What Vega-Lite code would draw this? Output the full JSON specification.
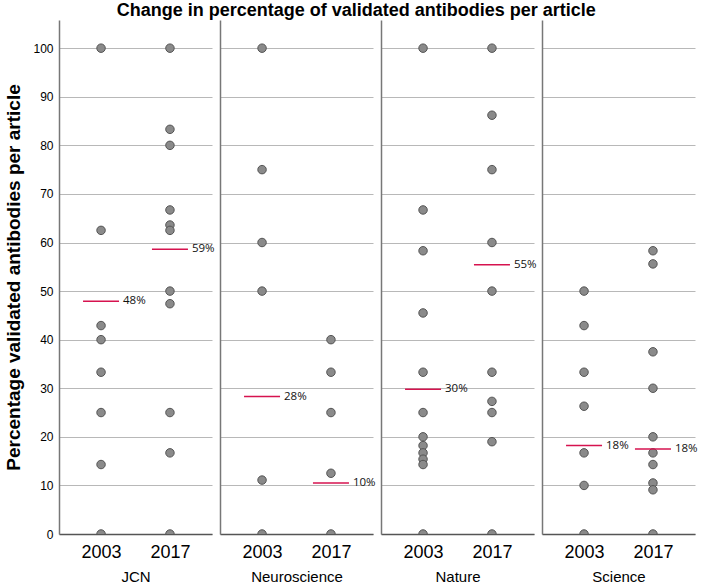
{
  "$schema": "https://vega.github.io/schema/vega-lite/v6.json",
  "title": {"text": "Change in percentage of validated antibodies per article", "fontSize": 18, "fontWeight": "bold", "font": "Liberation Sans", "anchor": "middle", "offset": 0, "color": "#000", "dx": 5},
  "padding": {"left": 4, "top": 2, "right": 5, "bottom": 2},
  "spacing": 5,
  "datasets": {
    "points": [
      {"journal": "JCN", "year": "2003", "value": 100},
      {"journal": "JCN", "year": "2003", "value": 62.5},
      {"journal": "JCN", "year": "2003", "value": 42.9},
      {"journal": "JCN", "year": "2003", "value": 40},
      {"journal": "JCN", "year": "2003", "value": 33.3},
      {"journal": "JCN", "year": "2003", "value": 25},
      {"journal": "JCN", "year": "2003", "value": 14.3},
      {"journal": "JCN", "year": "2003", "value": 0},
      {"journal": "JCN", "year": "2017", "value": 100},
      {"journal": "JCN", "year": "2017", "value": 83.3},
      {"journal": "JCN", "year": "2017", "value": 80},
      {"journal": "JCN", "year": "2017", "value": 66.7},
      {"journal": "JCN", "year": "2017", "value": 63.6},
      {"journal": "JCN", "year": "2017", "value": 62.5},
      {"journal": "JCN", "year": "2017", "value": 50},
      {"journal": "JCN", "year": "2017", "value": 47.4},
      {"journal": "JCN", "year": "2017", "value": 25},
      {"journal": "JCN", "year": "2017", "value": 16.7},
      {"journal": "JCN", "year": "2017", "value": 0},
      {"journal": "Neuroscience", "year": "2003", "value": 100},
      {"journal": "Neuroscience", "year": "2003", "value": 75},
      {"journal": "Neuroscience", "year": "2003", "value": 60},
      {"journal": "Neuroscience", "year": "2003", "value": 50},
      {"journal": "Neuroscience", "year": "2003", "value": 11.1},
      {"journal": "Neuroscience", "year": "2003", "value": 0},
      {"journal": "Neuroscience", "year": "2017", "value": 40},
      {"journal": "Neuroscience", "year": "2017", "value": 33.3},
      {"journal": "Neuroscience", "year": "2017", "value": 25},
      {"journal": "Neuroscience", "year": "2017", "value": 12.5},
      {"journal": "Neuroscience", "year": "2017", "value": 0},
      {"journal": "Nature", "year": "2003", "value": 100},
      {"journal": "Nature", "year": "2003", "value": 66.7},
      {"journal": "Nature", "year": "2003", "value": 58.3},
      {"journal": "Nature", "year": "2003", "value": 45.5},
      {"journal": "Nature", "year": "2003", "value": 33.3},
      {"journal": "Nature", "year": "2003", "value": 25},
      {"journal": "Nature", "year": "2003", "value": 20},
      {"journal": "Nature", "year": "2003", "value": 18.2},
      {"journal": "Nature", "year": "2003", "value": 16.7},
      {"journal": "Nature", "year": "2003", "value": 15.4},
      {"journal": "Nature", "year": "2003", "value": 14.3},
      {"journal": "Nature", "year": "2003", "value": 0},
      {"journal": "Nature", "year": "2017", "value": 100},
      {"journal": "Nature", "year": "2017", "value": 86.2},
      {"journal": "Nature", "year": "2017", "value": 75},
      {"journal": "Nature", "year": "2017", "value": 60},
      {"journal": "Nature", "year": "2017", "value": 50},
      {"journal": "Nature", "year": "2017", "value": 33.3},
      {"journal": "Nature", "year": "2017", "value": 27.3},
      {"journal": "Nature", "year": "2017", "value": 25},
      {"journal": "Nature", "year": "2017", "value": 19},
      {"journal": "Nature", "year": "2017", "value": 0},
      {"journal": "Science", "year": "2003", "value": 50},
      {"journal": "Science", "year": "2003", "value": 42.9},
      {"journal": "Science", "year": "2003", "value": 33.3},
      {"journal": "Science", "year": "2003", "value": 26.3},
      {"journal": "Science", "year": "2003", "value": 16.7},
      {"journal": "Science", "year": "2003", "value": 10},
      {"journal": "Science", "year": "2003", "value": 0},
      {"journal": "Science", "year": "2017", "value": 58.3},
      {"journal": "Science", "year": "2017", "value": 55.6},
      {"journal": "Science", "year": "2017", "value": 37.5},
      {"journal": "Science", "year": "2017", "value": 30},
      {"journal": "Science", "year": "2017", "value": 20},
      {"journal": "Science", "year": "2017", "value": 16.7},
      {"journal": "Science", "year": "2017", "value": 14.3},
      {"journal": "Science", "year": "2017", "value": 10.5},
      {"journal": "Science", "year": "2017", "value": 9.1},
      {"journal": "Science", "year": "2017", "value": 0}
    ],
    "means": [
      {"journal": "JCN", "year": "2003", "value": 47.9, "label": "48%"},
      {"journal": "JCN", "year": "2017", "value": 58.6, "label": "59%"},
      {"journal": "Neuroscience", "year": "2003", "value": 28.3, "label": "28%"},
      {"journal": "Neuroscience", "year": "2017", "value": 10.5, "label": "10%"},
      {"journal": "Nature", "year": "2003", "value": 29.8, "label": "30%"},
      {"journal": "Nature", "year": "2017", "value": 55.4, "label": "55%"},
      {"journal": "Science", "year": "2003", "value": 18.2, "label": "18%"},
      {"journal": "Science", "year": "2017", "value": 17.5, "label": "18%"}
    ]
  },
  "hconcat": [
    {
      "width": 153, "height": 514,
      "encoding": {
        "x": {"field": "year", "type": "ordinal", "scale": {"type": "point", "padding": 0.61}, "axis": {"title": "JCN"}},
        "y": {"field": "value", "type": "quantitative", "scale": {"domain": [0, 105.8], "nice": false, "zero": true}, "axis": {"values": [0,10,20,30,40,50,60,70,80,90,100], "title": "Percentage validated antibodies per article", "labels": true}}
      },
      "layer": [
        {"data": {"name": "points"}, "transform": [{"filter": "datum.journal === 'JCN'"}], "mark": {"type": "circle", "size": 72, "fill": "#8a8a8a", "stroke": "#555555", "strokeWidth": 1, "opacity": 1, "clip": true}},
        {"data": {"name": "means"}, "transform": [{"filter": "datum.journal === 'JCN'"}], "mark": {"type": "tick", "color": "#d6134f", "size": 36, "thickness": 1.5, "opacity": 1}},
        {"data": {"name": "means"}, "transform": [{"filter": "datum.journal === 'JCN'"}], "mark": {"type": "text", "align": "left", "baseline": "middle", "dx": 22, "fontSize": 11.5, "font": "Open Sans", "color": "#111"}, "encoding": {"text": {"field": "label"}}}
      ]
    },
    {
      "width": 153, "height": 514,
      "encoding": {
        "x": {"field": "year", "type": "ordinal", "scale": {"type": "point", "padding": 0.61}, "axis": {"title": "Neuroscience"}},
        "y": {"field": "value", "type": "quantitative", "scale": {"domain": [0, 105.8], "nice": false, "zero": true}, "axis": {"values": [0,10,20,30,40,50,60,70,80,90,100], "title": null, "labels": false}}
      },
      "layer": [
        {"data": {"name": "points"}, "transform": [{"filter": "datum.journal === 'Neuroscience'"}], "mark": {"type": "circle", "size": 72, "fill": "#8a8a8a", "stroke": "#555555", "strokeWidth": 1, "opacity": 1, "clip": true}},
        {"data": {"name": "means"}, "transform": [{"filter": "datum.journal === 'Neuroscience'"}], "mark": {"type": "tick", "color": "#d6134f", "size": 36, "thickness": 1.5, "opacity": 1}},
        {"data": {"name": "means"}, "transform": [{"filter": "datum.journal === 'Neuroscience'"}], "mark": {"type": "text", "align": "left", "baseline": "middle", "dx": 22, "fontSize": 11.5, "font": "Open Sans", "color": "#111"}, "encoding": {"text": {"field": "label"}}}
      ]
    },
    {
      "width": 153, "height": 514,
      "encoding": {
        "x": {"field": "year", "type": "ordinal", "scale": {"type": "point", "padding": 0.61}, "axis": {"title": "Nature"}},
        "y": {"field": "value", "type": "quantitative", "scale": {"domain": [0, 105.8], "nice": false, "zero": true}, "axis": {"values": [0,10,20,30,40,50,60,70,80,90,100], "title": null, "labels": false}}
      },
      "layer": [
        {"data": {"name": "points"}, "transform": [{"filter": "datum.journal === 'Nature'"}], "mark": {"type": "circle", "size": 72, "fill": "#8a8a8a", "stroke": "#555555", "strokeWidth": 1, "opacity": 1, "clip": true}},
        {"data": {"name": "means"}, "transform": [{"filter": "datum.journal === 'Nature'"}], "mark": {"type": "tick", "color": "#d6134f", "size": 36, "thickness": 1.5, "opacity": 1}},
        {"data": {"name": "means"}, "transform": [{"filter": "datum.journal === 'Nature'"}], "mark": {"type": "text", "align": "left", "baseline": "middle", "dx": 22, "fontSize": 11.5, "font": "Open Sans", "color": "#111"}, "encoding": {"text": {"field": "label"}}}
      ]
    },
    {
      "width": 153, "height": 514,
      "encoding": {
        "x": {"field": "year", "type": "ordinal", "scale": {"type": "point", "padding": 0.61}, "axis": {"title": "Science"}},
        "y": {"field": "value", "type": "quantitative", "scale": {"domain": [0, 105.8], "nice": false, "zero": true}, "axis": {"values": [0,10,20,30,40,50,60,70,80,90,100], "title": null, "labels": false}}
      },
      "layer": [
        {"data": {"name": "points"}, "transform": [{"filter": "datum.journal === 'Science'"}], "mark": {"type": "circle", "size": 72, "fill": "#8a8a8a", "stroke": "#555555", "strokeWidth": 1, "opacity": 1, "clip": true}},
        {"data": {"name": "means"}, "transform": [{"filter": "datum.journal === 'Science'"}], "mark": {"type": "tick", "color": "#d6134f", "size": 36, "thickness": 1.5, "opacity": 1}},
        {"data": {"name": "means"}, "transform": [{"filter": "datum.journal === 'Science'"}], "mark": {"type": "text", "align": "left", "baseline": "middle", "dx": 22, "fontSize": 11.5, "font": "Open Sans", "color": "#111"}, "encoding": {"text": {"field": "label"}}}
      ]
    }
  ],
  "config": {
    "view": {"stroke": null},
    "font": "Liberation Sans",
    "axisX": {"labelAngle": 0, "labelFontSize": 18, "labelPadding": 9, "labelColor": "#000", "ticks": false, "domain": true, "domainColor": "#555", "domainWidth": 1.5, "grid": false, "titleFontSize": 15, "titleFontWeight": "normal", "titlePadding": 8, "titleColor": "#000"},
    "axisY": {"labelFontSize": 12, "labelPadding": 6, "labelColor": "#000", "ticks": false, "domain": true, "domainColor": "#777", "domainWidth": 1.5, "grid": true, "gridColor": "#b8b8b8", "gridWidth": 1, "titleFontSize": 19, "titleFontWeight": "bold", "titlePadding": 9, "titleColor": "#000"}
  }
}
